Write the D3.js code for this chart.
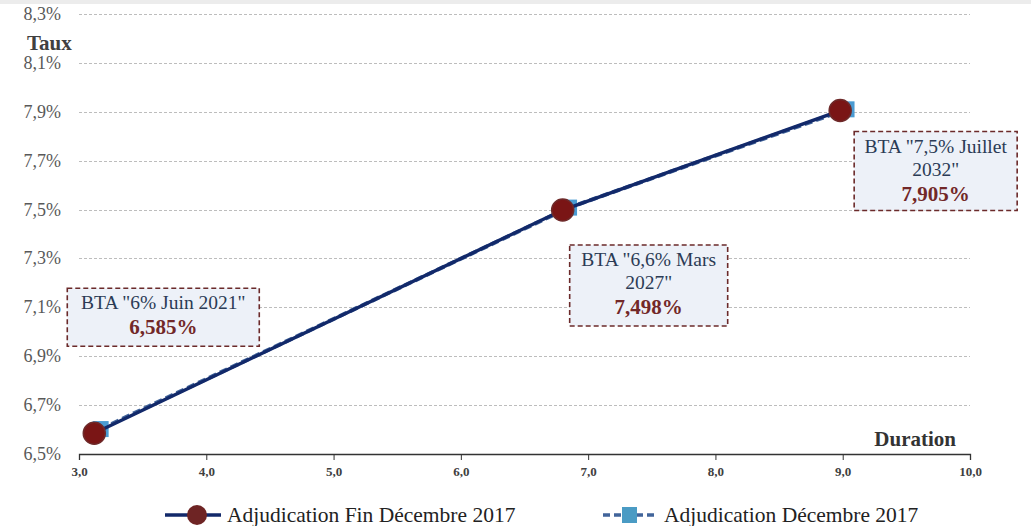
<!DOCTYPE html>
<html>
<head>
<meta charset="utf-8">
<script src="https://d3js.org/d3.v7.min.js"></script>
<style>
  body { margin: 0; background: #fff; }
</style>
</head>
<body>
<svg id="chart" width="1031" height="526" font-family="Liberation Serif"></svg>
<script>
// data
var finDuration = [3.12, 6.80, 8.98];
var finTaux = [6.585, 7.498, 7.905];
var decDuration = [3.17, 6.85, 9.03];
var decTaux = [6.602, 7.508, 7.910];
var bondNames = [["BTA \"6% Juin 2021\""], ["BTA \"6,6% Mars", "2027\""], ["BTA \"7,5% Juillet", "2032\""]];
var bondRates = ["6,585%", "7,498%", "7,905%"];
var xTicks = [3, 4, 5, 6, 7, 8, 9, 10];
var yTicks = [6.5, 6.7, 6.9, 7.1, 7.3, 7.5, 7.7, 7.9, 8.1, 8.3];
var seriesNames = ["Adjudication Fin Décembre 2017", "Adjudication Décembre 2017"];

var FONT = "Liberation Serif";
var svg = d3.select("#chart");
var comma = function(v, d) { return d3.format("." + d + "f")(v).replace(".", ","); };

var x = d3.scaleLinear().domain([3, 10]).range([79, 970]);
var y = d3.scaleLinear().domain([6.5, 8.3]).range([454, 14]);

// top band
svg.append("rect").attr("x", 0).attr("y", 0).attr("width", 1031).attr("height", 4).attr("fill", "#ececec");

// grid
svg.append("g").selectAll("line").data(yTicks.slice(1)).enter().append("line")
    .attr("x1", x(3)).attr("x2", x(10))
    .attr("y1", function(d) { return Math.round(y(d)) + 0.5; })
    .attr("y2", function(d) { return Math.round(y(d)) + 0.5; })
    .attr("stroke", "#bdbdbd").attr("stroke-width", 1).attr("stroke-dasharray", "3,2");

// y labels
svg.append("g").selectAll("text").data(yTicks).enter().append("text")
    .attr("x", 61).attr("y", function(d) { return y(d) + 6; })
    .attr("text-anchor", "end").attr("fill", "#595959")
    .attr("font-family", FONT).attr("font-size", 18)
    .text(function(d) { return comma(d, 1) + "%"; });

// x axis
var xAxis = svg.append("g").attr("transform", "translate(0," + y(6.5) + ")")
    .call(d3.axisBottom(x).tickValues(xTicks).tickSize(6).tickPadding(7)
        .tickFormat(function(d) { return comma(d, 1); }));
xAxis.attr("font-family", FONT).attr("font-size", 13);
xAxis.select(".domain").attr("stroke", "#333").attr("stroke-width", 1.3);
xAxis.selectAll(".tick line").attr("stroke", "#333");
xAxis.selectAll("text").attr("fill", "#404040").attr("font-weight", "bold").attr("font-family", FONT);

svg.append("text").attr("x", 27).attr("y", 50).attr("font-family", FONT).attr("font-size", 21)
    .attr("font-weight", "bold").attr("fill", "#404040").text("Taux");
svg.append("text").attr("x", 956).attr("y", 446).attr("text-anchor", "end").attr("font-family", FONT)
    .attr("font-size", 21).attr("font-weight", "bold").attr("fill", "#333").text("Duration");

// series
var line = d3.line().x(function(d) { return x(d[0]); }).y(function(d) { return y(d[1]); });
var decPts = d3.zip(decDuration, decTaux);
var finPts = d3.zip(finDuration, finTaux);

svg.append("path").attr("d", line(decPts)).attr("fill", "none")
    .attr("stroke", "#41649a").attr("stroke-width", 4).attr("stroke-dasharray", "8,4");
svg.append("g").selectAll("rect").data(decPts).enter().append("rect")
    .attr("x", function(d) { return x(d[0]) - 8; }).attr("y", function(d) { return y(d[1]) - 8; })
    .attr("width", 16).attr("height", 16).attr("fill", "#4a9bd2");

svg.append("path").attr("d", line(finPts)).attr("fill", "none")
    .attr("stroke", "#12296a").attr("stroke-width", 3.5);
svg.append("g").selectAll("circle").data(finPts).enter().append("circle")
    .attr("cx", function(d) { return x(d[0]); }).attr("cy", function(d) { return y(d[1]); })
    .attr("r", 11).attr("fill", "#7a1515").attr("stroke", "#6e2a2a").attr("stroke-width", 1.5);

// annotation boxes (offset from points)
var boxes = [
  { dx: -27, dy: -145, w: 192, h: 58 },
  { dx: 7, dy: 35, w: 158, h: 81 },
  { dx: 14, dy: 21, w: 163, h: 79 }
];
boxes.forEach(function(b, i) {
  var bx = x(finDuration[i]) + b.dx, by = y(finTaux[i]) + b.dy;
  var g = svg.append("g").attr("transform", "translate(" + bx + "," + by + ")");
  g.append("rect").attr("width", b.w).attr("height", b.h).attr("fill", "#edf1f8")
      .attr("stroke", "#6b2a2a").attr("stroke-width", 1.6).attr("stroke-dasharray", "5,3");
  var lines = bondNames[i];
  lines.forEach(function(t, j) {
    g.append("text").attr("x", b.w / 2).attr("y", 21 + j * 23).attr("text-anchor", "middle")
        .attr("fill", "#2b3b55").attr("font-family", FONT).attr("font-size", 19.5).text(t);
  });
  g.append("text").attr("x", b.w / 2).attr("y", 21 + lines.length * 23 + 2).attr("text-anchor", "middle")
      .attr("fill", "#722828").attr("font-family", FONT).attr("font-size", 21)
      .attr("font-weight", "bold").text(bondRates[i]);
});

// legend
var lg = svg.append("g");
lg.append("line").attr("x1", 165).attr("x2", 221).attr("y1", 515).attr("y2", 515)
    .attr("stroke", "#12296a").attr("stroke-width", 3.5);
lg.append("circle").attr("cx", 197).attr("cy", 515).attr("r", 10).attr("fill", "#6e2424");
lg.append("text").attr("x", 227).attr("y", 522).attr("font-family", FONT).attr("font-size", 21.5)
    .attr("fill", "#222").text(seriesNames[0]);
lg.append("line").attr("x1", 603).attr("x2", 658).attr("y1", 515).attr("y2", 515)
    .attr("stroke", "#41649a").attr("stroke-width", 3.5).attr("stroke-dasharray", "7,4");
lg.append("rect").attr("x", 622).attr("y", 507).attr("width", 15).attr("height", 16).attr("fill", "#4a9bc4");
lg.append("text").attr("x", 664).attr("y", 522).attr("font-family", FONT).attr("font-size", 21.5)
    .attr("fill", "#222").text(seriesNames[1]);
</script>
</body>
</html>
